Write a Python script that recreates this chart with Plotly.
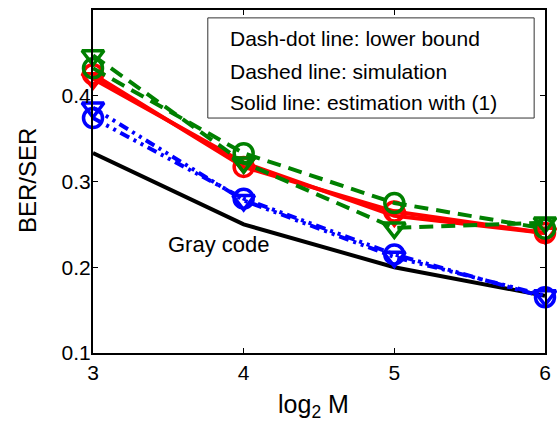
import plotly.graph_objects as go

log2M = [3, 4, 5, 6]
gray_code = [0.3333, 0.25, 0.2, 0.1667]
lower_circle = [0.374, 0.280, 0.215, 0.165]
lower_tri = [0.386, 0.278, 0.212, 0.167]
est_circle = [0.425, 0.317, 0.265, 0.240]
est_tri = [0.420, 0.322, 0.260, 0.240]
sim_circle = [0.432, 0.333, 0.275, 0.245]
sim_tri = [0.447, 0.322, 0.246, 0.252]
legend_lines = ["Dash-dot line: lower bound", "Dashed line: simulation",
                "Solid line: estimation with (1)"]

FONT = "Arial, Liberation Sans, sans-serif"
fig = go.Figure()

def add(y, color, dash, symbol, width=4, marker=True):
    fig.add_trace(go.Scatter(
        x=log2M, y=y, mode="lines+markers" if marker else "lines",
        line=dict(color=color, width=width, dash=dash),
        marker=dict(symbol=symbol, size=19, color=color,
                    line=dict(color=color, width=3.5)),
        cliponaxis=False, showlegend=False))

add(gray_code, "black", "solid", None, width=4, marker=False)
add(lower_circle, "blue", "10px,5px,3px,5px,3px,5px", "circle-open")
add(lower_tri, "blue", "10px,5px,3px,5px,3px,5px", "triangle-down-open")
add(est_circle, "red", "solid", "circle-open")
add(est_tri, "red", "solid", "triangle-down-open")
add(sim_circle, "green", "14px,8px", "circle-open")
add(sim_tri, "green", "14px,8px", "triangle-down-open")

fig.add_annotation(x=3.833, y=0.226, text="Gray code", showarrow=False,
                   font=dict(size=22, color="black", family=FONT))

# legend box
fig.add_shape(type="rect", xref="paper", yref="paper", x0=0.254, x1=0.976,
              y0=0.685, y1=0.977, line=dict(color="#333", width=1),
              fillcolor="white", layer="above")
for txt, yy in zip(legend_lines, [0.918, 0.822, 0.729]):
    fig.add_annotation(xref="paper", yref="paper", x=0.299, y=yy, xanchor="left",
                       yanchor="middle", text=txt, showarrow=False,
                       font=dict(size=21, color="black", family=FONT))

# axis titles
fig.add_annotation(xref="paper", yref="paper", x=(313 - 93) / 452, y=(353 - 406) / 343,
                   text="log<sub>2</sub> M", showarrow=False, xanchor="center",
                   yanchor="middle", font=dict(size=25, color="black", family=FONT))
fig.add_annotation(xref="paper", yref="paper", x=(28 - 93) / 452, y=(353 - 181) / 343,
                   text="BER/SER", showarrow=False, textangle=-90, xanchor="center",
                   yanchor="middle", font=dict(size=24, color="black", family=FONT))

axis_common = dict(showline=True, linecolor="black", linewidth=2, mirror="ticks",
                   ticks="inside", ticklen=5, tickcolor="black", showgrid=False,
                   zeroline=False, automargin=False,
                   tickfont=dict(size=21, color="black", family=FONT))
fig.update_xaxes(range=[3, 6], tickvals=[3, 4, 5, 6], **axis_common)
fig.update_yaxes(range=[0.1, 0.5], tickvals=[0.1, 0.2, 0.3, 0.4, 0.5],
                 tickformat=".1f", ticklabelstandoff=-4, **axis_common)
fig.update_layout(width=557, height=428, plot_bgcolor="white", paper_bgcolor="white",
                  margin=dict(l=93, r=12, t=10, b=75))
fig.write_html("out.html", config={"displayModeBar": False},
               post_script="document.body.style.margin='0';"
                           "document.body.style.overflow='hidden';")
